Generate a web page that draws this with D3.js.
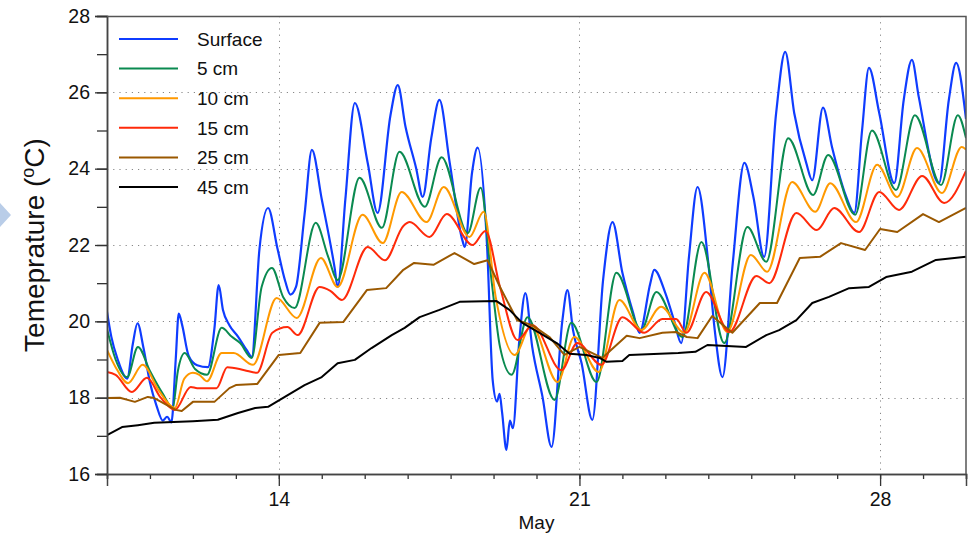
<!DOCTYPE html>
<html>
<head>
<meta charset="utf-8">
<script src="https://cdn.jsdelivr.net/npm/d3@7"></script>
<style>
  html, body { margin: 0; padding: 0; background: #fff; }
  svg { display: block; font-family: "Liberation Sans", Arial, Helvetica, sans-serif; }
</style>
</head>
<body>
<svg id="chart" width="969" height="536"></svg>
<script>
// day of May (fractional), temperature in degC
var surface = [[10.00,20.25],[10.10,19.6],[10.25,19.0],[10.47,18.5],[10.6,19.4],[10.71,19.95],[10.85,19.3],[11.0,18.4],[11.15,17.8],[11.3,17.4],[11.4,17.5],[11.5,17.35],[11.6,19.0],[11.67,20.2],[11.75,19.9],[11.9,19.1],[12.1,18.85],[12.35,18.8],[12.5,19.8],[12.6,20.95],[12.7,20.3],[12.85,19.9],[13.05,19.6],[13.25,19.25],[13.37,19.07],[13.55,21.9],[13.75,22.97],[13.97,21.9],[14.15,21.05],[14.27,20.7],[14.4,20.9],[14.6,22.8],[14.77,24.49],[15.0,23.2],[15.3,21.4],[15.37,20.9],[15.55,23.2],[15.77,25.72],[16.07,24.15],[16.3,22.84],[16.6,25.4],[16.77,26.19],[16.95,25.1],[17.2,24.0],[17.35,23.26],[17.55,24.8],[17.74,25.8],[17.98,24.15],[18.28,22.1],[18.33,21.95],[18.5,23.9],[18.63,24.55],[18.85,21.95],[18.98,18.46],[19.08,17.9],[19.14,18.1],[19.2,17.6],[19.30,16.63],[19.38,17.4],[19.45,17.2],[19.6,19.5],[19.74,20.74],[19.9,19.33],[20.14,18.02],[20.35,16.71],[20.6,20.0],[20.72,20.82],[20.85,19.77],[21.05,18.9],[21.3,17.42],[21.55,21.08],[21.77,22.6],[22.0,21.27],[22.25,20.22],[22.4,19.7],[22.65,21.0],[22.74,21.35],[23.0,20.74],[23.2,20.03],[23.37,19.43],[23.55,21.69],[23.75,23.52],[24.0,21.53],[24.15,19.77],[24.33,18.54],[24.57,21.53],[24.84,24.15],[25.05,23.26],[25.3,21.69],[25.58,25.46],[25.79,27.06],[26.0,25.46],[26.28,24.15],[26.42,23.7],[26.67,25.6],[26.88,24.57],[27.2,23.3],[27.4,22.84],[27.58,25.0],[27.74,26.64],[27.98,25.46],[28.33,23.62],[28.55,25.8],[28.74,26.85],[28.9,25.88],[29.37,23.62],[29.6,25.8],[29.77,26.77],[30.0,25.3]];

var cm5 = [[10.0,19.8],[10.2,19.0],[10.47,18.54],[10.72,19.33],[11.0,18.7],[11.3,18.1],[11.53,17.73],[11.65,18.7],[11.81,19.17],[12.05,18.75],[12.33,18.6],[12.67,19.83],[12.9,19.6],[13.1,19.43],[13.37,19.04],[13.6,20.9],[13.84,21.4],[14.1,20.64],[14.37,20.35],[14.86,22.58],[15.15,21.69],[15.37,21.08],[15.88,23.76],[16.4,22.45],[16.81,24.44],[17.4,23.0],[17.79,24.3],[18.4,22.31],[18.7,23.5],[18.95,21.1],[19.15,19.33],[19.42,18.6],[19.79,20.11],[20.42,17.94],[20.81,19.96],[21.4,18.41],[21.86,21.27],[22.44,19.77],[22.79,20.77],[23.4,19.59],[23.84,22.08],[24.37,19.43],[24.91,22.47],[25.35,21.56],[25.86,24.8],[26.44,23.31],[26.79,24.36],[27.42,22.79],[27.81,25.0],[28.37,23.44],[28.81,25.4],[29.42,23.57],[29.81,25.4],[30.0,24.8]];

var cm10 = [[10.0,19.25],[10.2,18.8],[10.49,18.38],[10.83,18.86],[11.2,18.2],[11.58,17.73],[11.8,18.5],[12.0,18.65],[12.15,18.6],[12.33,18.43],[12.67,19.17],[12.95,19.17],[13.4,18.86],[13.95,20.61],[14.42,20.09],[14.98,21.66],[15.37,20.9],[15.95,22.79],[16.42,22.05],[16.86,23.39],[17.44,22.6],[17.84,23.52],[18.44,22.21],[18.77,22.87],[19.05,20.64],[19.49,19.12],[19.88,19.9],[20.49,18.41],[20.88,19.59],[21.45,18.67],[21.93,20.56],[22.44,19.77],[22.9,20.38],[23.44,19.7],[23.91,21.27],[24.44,19.72],[24.99,21.74],[25.37,21.3],[25.95,23.65],[26.49,22.87],[26.84,23.62],[27.44,22.6],[27.93,24.1],[28.4,23.26],[28.86,24.54],[29.44,23.36],[29.9,24.57],[30.0,24.5]];

var cm15 = [[10.0,18.67],[10.2,18.6],[10.58,18.15],[10.93,18.52],[11.25,18.0],[11.58,17.68],[11.95,18.28],[12.1,18.25],[12.55,18.25],[12.8,18.8],[13.2,18.72],[13.49,18.65],[13.85,19.7],[14.2,19.85],[14.44,19.64],[14.95,20.9],[15.2,20.8],[15.47,20.56],[16.07,21.95],[16.47,21.6],[16.9,22.5],[17.05,22.6],[17.51,22.21],[17.91,22.81],[18.51,22.0],[18.81,22.37],[19.15,20.9],[19.56,19.51],[19.91,19.9],[20.58,18.72],[20.95,19.43],[21.51,18.86],[22.0,20.11],[22.51,19.7],[22.93,20.06],[23.25,20.06],[23.49,19.7],[23.95,20.77],[24.49,19.72],[25.12,21.19],[25.42,21.0],[26.05,22.84],[26.53,22.39],[26.93,22.97],[27.51,22.34],[27.98,23.39],[28.44,22.92],[28.98,23.81],[29.49,23.1],[30.0,23.94]];

var cm25 = [[10.0,17.99],[10.3,18.0],[10.65,17.89],[10.95,18.02],[11.1,17.99],[11.6,17.68],[11.74,17.65],[12.0,17.89],[12.5,17.89],[12.85,18.25],[13.0,18.33],[13.5,18.36],[14.0,19.12],[14.5,19.17],[14.95,19.96],[15.5,19.98],[16.05,20.82],[16.5,20.87],[16.9,21.35],[17.15,21.53],[17.6,21.48],[18.09,21.79],[18.55,21.5],[18.86,21.6],[19.15,20.9],[19.55,20.03],[19.9,19.9],[20.3,19.59],[20.65,19.12],[21.0,19.33],[21.53,19.04],[22.1,19.62],[22.4,19.56],[22.93,19.7],[23.25,19.72],[23.5,19.59],[23.75,19.56],[24.09,20.14],[24.56,19.7],[25.2,20.48],[25.6,20.48],[26.13,21.66],[26.6,21.69],[27.09,22.05],[27.65,21.87],[28.0,22.42],[28.4,22.34],[29.0,22.81],[29.37,22.6],[30.0,22.97]];

var cm45 = [[10.0,17.02],[10.35,17.23],[10.72,17.28],[11.1,17.34],[12.0,17.38],[12.58,17.42],[13.05,17.6],[13.45,17.73],[13.75,17.76],[14.14,18.02],[14.6,18.33],[15.0,18.54],[15.37,18.9],[15.77,18.99],[16.16,19.3],[16.63,19.64],[16.93,19.83],[17.28,20.11],[17.74,20.3],[18.21,20.51],[19.07,20.53],[19.37,20.3],[19.67,19.96],[20.07,19.7],[20.47,19.43],[20.77,19.15],[21.16,19.12],[21.47,19.04],[21.63,18.94],[22.0,18.96],[22.16,19.12],[23.3,19.17],[23.7,19.2],[23.98,19.38],[24.88,19.33],[25.35,19.64],[25.65,19.77],[26.05,20.03],[26.42,20.48],[26.81,20.64],[27.28,20.87],[27.74,20.9],[28.14,21.16],[28.74,21.3],[29.3,21.61],[30.0,21.69]];

var seriesNames = ["Surface", "5 cm", "10 cm", "15 cm", "25 cm", "45 cm"];
var seriesData = [surface, cm5, cm10, cm15, cm25, cm45];
var seriesColors = ["#0f3cff", "#0a8a50", "#ff9900", "#ff2a0a", "#9a5800", "#000000"];

var dayStart = 10, dayEnd = 30;
var labelDays = [14, 21, 28];
var yMin = 16, yMax = 28;
var yLabelTicks = [16, 18, 20, 22, 24, 26, 28];

// 画布
var margin = {left: 107, right: 3, top: 16, bottom: 62};
var svg = d3.select("#chart");
var W = +svg.attr("width"), H = +svg.attr("height");
var w = W - margin.left - margin.right, h = H - margin.top - margin.bottom;

var toDate = function (d) {
    return d3.timeMinute.offset(new Date(2013, 4, 0), Math.round(d * 1440));
};

var x = d3.scaleTime().domain([toDate(dayStart), toDate(dayEnd)]).range([0, w]);
var y = d3.scaleLinear().domain([yMin, yMax]).range([h, 0]);

// 左侧箭头
svg.append("polygon")
    .attr("points", "0,203 11,215 0,227")
    .attr("fill", "#b9cde8");

var g = svg.append("g").attr("transform", "translate(" + margin.left + "," + margin.top + ")");

// 网格
var grid = g.append("g").attr("class", "grid")
    .attr("stroke", "#888").attr("stroke-width", 1).attr("stroke-dasharray", "1.2,5");
grid.selectAll("line.h").data(yLabelTicks.slice(1, -1)).enter().append("line")
    .attr("x1", 0).attr("x2", w)
    .attr("y1", function (d) { return Math.round(y(d)) + 0.5; })
    .attr("y2", function (d) { return Math.round(y(d)) + 0.5; });
grid.selectAll("line.v").data(labelDays).enter().append("line")
    .attr("y1", 0).attr("y2", h)
    .attr("x1", function (d) { return Math.round(x(toDate(d))) + 0.5; })
    .attr("x2", function (d) { return Math.round(x(toDate(d))) + 0.5; });

// 数据线
g.append("clipPath").attr("id", "clip").append("rect")
    .attr("x", 0).attr("y", 0).attr("width", w).attr("height", h);

var lineSmooth = d3.line()
    .x(function (d) { return x(toDate(d[0])); })
    .y(function (d) { return y(d[1]); })
    .curve(d3.curveMonotoneX);
var lineStep = d3.line()
    .x(function (d) { return x(toDate(d[0])); })
    .y(function (d) { return y(d[1]); });

var lines = g.append("g").attr("clip-path", "url(#clip)");
seriesData.forEach(function (data, i) {
    lines.append("path")
        .attr("d", (i < 4 ? lineSmooth : lineStep)(data))
        .attr("fill", "none")
        .attr("stroke", seriesColors[i])
        .attr("stroke-width", i === 0 ? 2.2 : 2)
        .attr("stroke-linejoin", "round");
});

// 坐标轴
var xMinor = d3.axisBottom(x).ticks(d3.timeDay.every(1)).tickSize(5).tickFormat("");
var xMajor = d3.axisBottom(x).tickValues(labelDays.map(toDate)).tickSize(12).tickPadding(6)
    .tickFormat(d3.timeFormat("%-d"));
var yMinor = d3.axisLeft(y).tickValues(d3.range(yMin, yMax + 1)).tickSize(10).tickFormat("");
var yMajor = d3.axisLeft(y).tickValues(yLabelTicks).tickSize(12).tickPadding(5)
    .tickFormat(d3.format("d"));

[xMinor, xMajor].forEach(function (ax) {
    g.append("g").attr("transform", "translate(0," + h + ")").call(ax);
});
[yMinor, yMajor].forEach(function (ax) {
    g.append("g").call(ax);
});
g.selectAll(".domain").attr("stroke", "#444").attr("stroke-width", 1.5);
g.selectAll(".tick line").attr("stroke", "#333").attr("stroke-width", 1.3);
g.selectAll(".tick text").attr("font-size", "19.5px").attr("fill", "#111")
    .attr("font-family", "'Liberation Sans', Arial, Helvetica, sans-serif");

// 外框
g.append("path")
    .attr("d", "M0,0.5H" + w + "V" + h)
    .attr("fill", "none").attr("stroke", "#555").attr("stroke-width", 1.5);

// 标题
g.append("text")
    .attr("x", w / 2).attr("y", h + 55)
    .attr("text-anchor", "middle").attr("font-size", "19px").attr("fill", "#111")
    .text("May");

var yt = svg.append("text")
    .attr("transform", "translate(44," + (margin.top + h / 2) + ") rotate(-90)")
    .attr("text-anchor", "middle").attr("font-size", "28px").attr("fill", "#111");
yt.append("tspan").text("Temeprature (");
yt.append("tspan").attr("font-size", "18px").attr("dy", "-10").text("o");
yt.append("tspan").attr("dy", "10").text("C)");

// 图例
var legend = g.append("g").attr("transform", "translate(12,23)");
seriesNames.forEach(function (name, i) {
    var row = legend.append("g").attr("transform", "translate(0," + (i * 29.6) + ")");
    row.append("line").attr("x1", 0).attr("x2", 59).attr("y1", 0).attr("y2", 0)
        .attr("stroke", seriesColors[i]).attr("stroke-width", 2);
    row.append("text").attr("x", 78).attr("y", 0).attr("dy", "0.36em")
        .attr("font-size", "19px").attr("fill", "#111").text(name);
});
</script>
</body>
</html>
